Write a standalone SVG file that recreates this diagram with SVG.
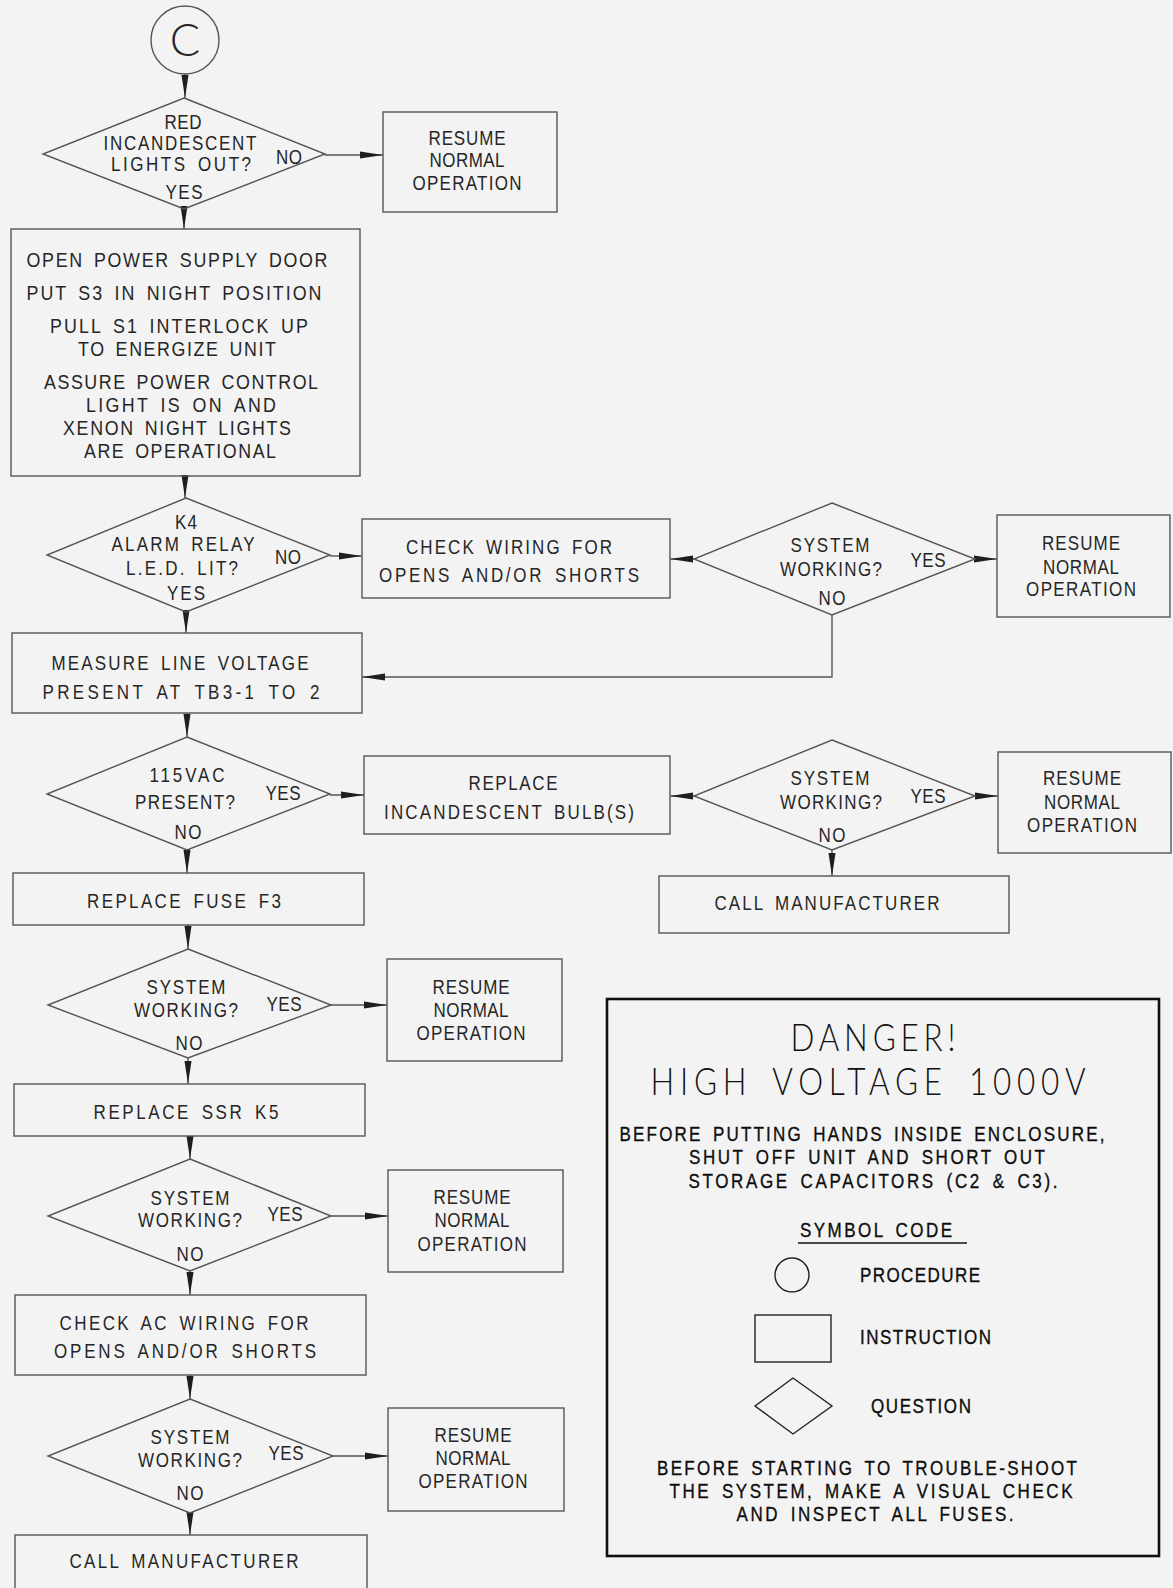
<svg xmlns="http://www.w3.org/2000/svg" width="1173" height="1588" viewBox="0 0 1173 1588">
<style>
.bg{fill:#f3f3f3}
.shape{fill:none;stroke:#555;stroke-width:1.4}
.conn{fill:none;stroke:#555;stroke-width:1.4}
.t{font-family:"Liberation Sans",Arial,sans-serif;font-size:20px;fill:#262626;text-anchor:middle;word-spacing:4px}
.tb{font-family:"Liberation Sans",Arial,sans-serif;font-size:21px;fill:#262626;text-anchor:middle;word-spacing:4px}
.lg{font-family:"Liberation Sans",Arial,sans-serif;font-size:20px;fill:#0d0d0d;stroke:#0d0d0d;stroke-width:0.35;text-anchor:middle;word-spacing:4px}
.lgs{font-family:"Liberation Sans",Arial,sans-serif;font-size:20px;fill:#0d0d0d;stroke:#0d0d0d;stroke-width:0.35;text-anchor:start}
.big{font-family:Lato,"Liberation Sans",Arial,sans-serif;font-weight:300;font-size:37px;fill:#111;text-anchor:middle;word-spacing:8px}
.lshape{fill:none;stroke:#222;stroke-width:1.4}
</style>
<defs>
<marker id="ah" markerUnits="userSpaceOnUse" markerWidth="23" markerHeight="8" viewBox="0 0 23 8" refX="23" refY="4" orient="auto">
<path d="M0,0.5 L23,4 L0,7.5 Z" fill="#1e1e1e"/>
</marker>
</defs>
<rect class="bg" x="0" y="0" width="1173" height="1588"/>

<g id="connectors">
<line class="conn" x1="185" y1="74" x2="185" y2="98" marker-end="url(#ah)"/>
<line class="conn" x1="325" y1="155" x2="383" y2="155" marker-end="url(#ah)"/>
<line class="conn" x1="184" y1="209" x2="184" y2="229" marker-end="url(#ah)"/>
<line class="conn" x1="185" y1="476" x2="185" y2="498" marker-end="url(#ah)"/>
<line class="conn" x1="330" y1="556" x2="362" y2="556" marker-end="url(#ah)"/>
<line class="conn" x1="694" y1="559" x2="670" y2="559" marker-end="url(#ah)"/>
<line class="conn" x1="975" y1="559" x2="997" y2="559" marker-end="url(#ah)"/>
<polyline class="conn" points="832,615 832,677 362,677" marker-end="url(#ah)"/>
<line class="conn" x1="186" y1="612" x2="186" y2="633" marker-end="url(#ah)"/>
<line class="conn" x1="187" y1="713" x2="187" y2="737" marker-end="url(#ah)"/>
<line class="conn" x1="330" y1="795" x2="364" y2="795" marker-end="url(#ah)"/>
<line class="conn" x1="694" y1="796" x2="670" y2="796" marker-end="url(#ah)"/>
<line class="conn" x1="975" y1="796" x2="998" y2="796" marker-end="url(#ah)"/>
<line class="conn" x1="832" y1="850" x2="832" y2="876" marker-end="url(#ah)"/>
<line class="conn" x1="187" y1="850" x2="187" y2="873" marker-end="url(#ah)"/>
<line class="conn" x1="188" y1="925" x2="188" y2="949" marker-end="url(#ah)"/>
<line class="conn" x1="331" y1="1005" x2="387" y2="1005" marker-end="url(#ah)"/>
<line class="conn" x1="188" y1="1058" x2="188" y2="1084" marker-end="url(#ah)"/>
<line class="conn" x1="190" y1="1136" x2="190" y2="1159" marker-end="url(#ah)"/>
<line class="conn" x1="331" y1="1216" x2="388" y2="1216" marker-end="url(#ah)"/>
<line class="conn" x1="190" y1="1271" x2="190" y2="1295" marker-end="url(#ah)"/>
<line class="conn" x1="190" y1="1375" x2="190" y2="1399" marker-end="url(#ah)"/>
<line class="conn" x1="333" y1="1456" x2="388" y2="1456" marker-end="url(#ah)"/>
<line class="conn" x1="190" y1="1513" x2="190" y2="1535" marker-end="url(#ah)"/>
</g>

<g id="startC">
<circle class="shape" cx="185" cy="40" r="34"/>
<text x="185" y="56" style="font-family:Lato,'Liberation Sans',sans-serif;font-weight:300;font-size:45px;fill:#262626;text-anchor:middle">C</text>
</g>

<g id="q1">
<polygon class="shape" points="184,98 325,154 184,209 43,154"/>
<text class="t" transform="translate(183 129) scale(.85 1)" textLength="43.5" lengthAdjust="spacing">RED</text>
<text class="t" transform="translate(180 150) scale(.85 1)" textLength="180" lengthAdjust="spacing">INCANDESCENT</text>
<text class="t" transform="translate(181 171) scale(.85 1)" textLength="164.7" lengthAdjust="spacing">LIGHTS OUT?</text>
<text class="t" transform="translate(184 199) scale(.85 1)" textLength="43.5" lengthAdjust="spacing">YES</text>
<text class="t" transform="translate(289 164) scale(.85 1)" textLength="30.6" lengthAdjust="spacing">NO</text>
</g>

<g id="resume1">
<rect class="shape" x="383" y="112" width="174" height="100"/>
<text class="t" transform="translate(467 145) scale(.85 1)" textLength="90.6" lengthAdjust="spacing">RESUME</text>
<text class="t" transform="translate(467 167) scale(.85 1)" textLength="88.2" lengthAdjust="spacing">NORMAL</text>
<text class="t" transform="translate(467 190) scale(.85 1)" textLength="128.2" lengthAdjust="spacing">OPERATION</text>
</g>

<g id="openDoor">
<rect class="shape" x="11" y="229" width="349" height="247"/>
<text class="tb" transform="translate(177 267) scale(.85 1)" textLength="354.1" lengthAdjust="spacing">OPEN POWER SUPPLY DOOR</text>
<text class="tb" transform="translate(174 300) scale(.85 1)" textLength="347.1" lengthAdjust="spacing">PUT S3 IN NIGHT POSITION</text>
<text class="tb" transform="translate(179 333) scale(.85 1)" textLength="303.5" lengthAdjust="spacing">PULL S1 INTERLOCK UP</text>
<text class="tb" transform="translate(177 356) scale(.85 1)" textLength="232.9" lengthAdjust="spacing">TO ENERGIZE UNIT</text>
<text class="tb" transform="translate(181 389) scale(.85 1)" textLength="322.4" lengthAdjust="spacing">ASSURE POWER CONTROL</text>
<text class="tb" transform="translate(181 412) scale(.85 1)" textLength="223.5" lengthAdjust="spacing">LIGHT IS ON AND</text>
<text class="tb" transform="translate(177 435) scale(.85 1)" textLength="268.2" lengthAdjust="spacing">XENON NIGHT LIGHTS</text>
<text class="tb" transform="translate(180 458) scale(.85 1)" textLength="225.9" lengthAdjust="spacing">ARE OPERATIONAL</text>
</g>

<g id="q2">
<polygon class="shape" points="186,498 330,555 186,612 47,555"/>
<text class="t" transform="translate(186 529) scale(.85 1)" textLength="26" lengthAdjust="spacing">K4</text>
<text class="t" transform="translate(183 551) scale(.85 1)" textLength="168.2" lengthAdjust="spacing">ALARM RELAY</text>
<text class="t" transform="translate(182 575) scale(.85 1)" textLength="131.8" lengthAdjust="spacing">L.E.D. LIT?</text>
<text class="t" transform="translate(186 600) scale(.85 1)" textLength="44.7" lengthAdjust="spacing">YES</text>
<text class="t" transform="translate(288 564) scale(.85 1)" textLength="30.6" lengthAdjust="spacing">NO</text>
</g>

<g id="checkWiring">
<rect class="shape" x="362" y="519" width="308" height="79"/>
<text class="t" transform="translate(509 554) scale(.85 1)" textLength="242.4" lengthAdjust="spacing">CHECK WIRING FOR</text>
<text class="t" transform="translate(509 582) scale(.85 1)" textLength="305.9" lengthAdjust="spacing">OPENS AND/OR SHORTS</text>
</g>

<g id="q3">
<polygon class="shape" points="832,503 975,559 832,615 694,559"/>
<text class="t" transform="translate(830 552) scale(.85 1)" textLength="92.9" lengthAdjust="spacing">SYSTEM</text>
<text class="t" transform="translate(831 576) scale(.85 1)" textLength="120" lengthAdjust="spacing">WORKING?</text>
<text class="t" transform="translate(928 567) scale(.85 1)" textLength="41.2" lengthAdjust="spacing">YES</text>
<text class="t" transform="translate(832 605) scale(.85 1)" textLength="31.8" lengthAdjust="spacing">NO</text>
</g>

<g id="resume2">
<rect class="shape" x="997" y="515" width="173" height="102"/>
<text class="t" transform="translate(1081 550) scale(.85 1)" textLength="91.8" lengthAdjust="spacing">RESUME</text>
<text class="t" transform="translate(1081 574) scale(.85 1)" textLength="89.4" lengthAdjust="spacing">NORMAL</text>
<text class="t" transform="translate(1081 596) scale(.85 1)" textLength="129.4" lengthAdjust="spacing">OPERATION</text>
</g>

<g id="measure">
<rect class="shape" x="12" y="633" width="350" height="80"/>
<text class="t" transform="translate(180 670) scale(.85 1)" textLength="302.4" lengthAdjust="spacing">MEASURE LINE VOLTAGE</text>
<text class="t" transform="translate(181 699) scale(.85 1)" textLength="325.9" lengthAdjust="spacing">PRESENT AT TB3-1 TO 2</text>
</g>

<g id="q4">
<polygon class="shape" points="187,737 330,794 187,850 47,794"/>
<text class="t" transform="translate(187 782) scale(.85 1)" textLength="88.2" lengthAdjust="spacing">115VAC</text>
<text class="t" transform="translate(185 809) scale(.85 1)" textLength="117.6" lengthAdjust="spacing">PRESENT?</text>
<text class="t" transform="translate(283 800) scale(.85 1)" textLength="41.2" lengthAdjust="spacing">YES</text>
<text class="t" transform="translate(188 839) scale(.85 1)" textLength="31.8" lengthAdjust="spacing">NO</text>
</g>

<g id="replaceBulb">
<rect class="shape" x="364" y="756" width="306" height="78"/>
<text class="t" transform="translate(513 790) scale(.85 1)" textLength="104.7" lengthAdjust="spacing">REPLACE</text>
<text class="t" transform="translate(509 819) scale(.85 1)" textLength="294.1" lengthAdjust="spacing">INCANDESCENT BULB(S)</text>
</g>

<g id="q5">
<polygon class="shape" points="832,740 975,796 832,850 694,796"/>
<text class="t" transform="translate(830 785) scale(.85 1)" textLength="92.9" lengthAdjust="spacing">SYSTEM</text>
<text class="t" transform="translate(831 809) scale(.85 1)" textLength="120" lengthAdjust="spacing">WORKING?</text>
<text class="t" transform="translate(928 803) scale(.85 1)" textLength="41.2" lengthAdjust="spacing">YES</text>
<text class="t" transform="translate(832 842) scale(.85 1)" textLength="31.8" lengthAdjust="spacing">NO</text>
</g>

<g id="resume3">
<rect class="shape" x="998" y="752" width="173" height="101"/>
<text class="t" transform="translate(1082 785) scale(.85 1)" textLength="91.8" lengthAdjust="spacing">RESUME</text>
<text class="t" transform="translate(1082 809) scale(.85 1)" textLength="89.4" lengthAdjust="spacing">NORMAL</text>
<text class="t" transform="translate(1082 832) scale(.85 1)" textLength="129.4" lengthAdjust="spacing">OPERATION</text>
</g>

<g id="callMfr1">
<rect class="shape" x="659" y="876" width="350" height="57"/>
<text class="t" transform="translate(827 910) scale(.85 1)" textLength="264.7" lengthAdjust="spacing">CALL MANUFACTURER</text>
</g>

<g id="replaceFuse">
<rect class="shape" x="13" y="873" width="351" height="52"/>
<text class="t" transform="translate(184 908) scale(.85 1)" textLength="228.2" lengthAdjust="spacing">REPLACE FUSE F3</text>
</g>

<g id="q6">
<polygon class="shape" points="188,949 331,1005 188,1058 48,1005"/>
<text class="t" transform="translate(186 994) scale(.85 1)" textLength="92.9" lengthAdjust="spacing">SYSTEM</text>
<text class="t" transform="translate(186 1017) scale(.85 1)" textLength="122.4" lengthAdjust="spacing">WORKING?</text>
<text class="t" transform="translate(284 1011) scale(.85 1)" textLength="41.2" lengthAdjust="spacing">YES</text>
<text class="t" transform="translate(189 1050) scale(.85 1)" textLength="31.8" lengthAdjust="spacing">NO</text>
</g>

<g id="resume4">
<rect class="shape" x="387" y="959" width="175" height="102"/>
<text class="t" transform="translate(471 994) scale(.85 1)" textLength="90.6" lengthAdjust="spacing">RESUME</text>
<text class="t" transform="translate(471 1017) scale(.85 1)" textLength="88.2" lengthAdjust="spacing">NORMAL</text>
<text class="t" transform="translate(471 1040) scale(.85 1)" textLength="128.2" lengthAdjust="spacing">OPERATION</text>
</g>

<g id="replaceSSR">
<rect class="shape" x="14" y="1084" width="351" height="52"/>
<text class="t" transform="translate(186 1119) scale(.85 1)" textLength="217.6" lengthAdjust="spacing">REPLACE SSR K5</text>
</g>

<g id="q7">
<polygon class="shape" points="190,1159 331,1216 190,1271 48,1216"/>
<text class="t" transform="translate(190 1205) scale(.85 1)" textLength="92.9" lengthAdjust="spacing">SYSTEM</text>
<text class="t" transform="translate(190 1227) scale(.85 1)" textLength="122.4" lengthAdjust="spacing">WORKING?</text>
<text class="t" transform="translate(285 1221) scale(.85 1)" textLength="41.2" lengthAdjust="spacing">YES</text>
<text class="t" transform="translate(190 1261) scale(.85 1)" textLength="31.8" lengthAdjust="spacing">NO</text>
</g>

<g id="resume5">
<rect class="shape" x="388" y="1170" width="175" height="102"/>
<text class="t" transform="translate(472 1204) scale(.85 1)" textLength="90.6" lengthAdjust="spacing">RESUME</text>
<text class="t" transform="translate(472 1227) scale(.85 1)" textLength="88.2" lengthAdjust="spacing">NORMAL</text>
<text class="t" transform="translate(472 1251) scale(.85 1)" textLength="128.2" lengthAdjust="spacing">OPERATION</text>
</g>

<g id="checkAC">
<rect class="shape" x="15" y="1295" width="351" height="80"/>
<text class="t" transform="translate(184 1330) scale(.85 1)" textLength="292.9" lengthAdjust="spacing">CHECK AC WIRING FOR</text>
<text class="t" transform="translate(185 1358) scale(.85 1)" textLength="308.2" lengthAdjust="spacing">OPENS AND/OR SHORTS</text>
</g>

<g id="q8">
<polygon class="shape" points="190,1399 333,1456 190,1513 48,1456"/>
<text class="t" transform="translate(190 1444) scale(.85 1)" textLength="92.9" lengthAdjust="spacing">SYSTEM</text>
<text class="t" transform="translate(190 1467) scale(.85 1)" textLength="122.4" lengthAdjust="spacing">WORKING?</text>
<text class="t" transform="translate(286 1460) scale(.85 1)" textLength="41.2" lengthAdjust="spacing">YES</text>
<text class="t" transform="translate(190 1500) scale(.85 1)" textLength="31.8" lengthAdjust="spacing">NO</text>
</g>

<g id="resume6">
<rect class="shape" x="388" y="1408" width="176" height="103"/>
<text class="t" transform="translate(473 1442) scale(.85 1)" textLength="90.6" lengthAdjust="spacing">RESUME</text>
<text class="t" transform="translate(473 1465) scale(.85 1)" textLength="88.2" lengthAdjust="spacing">NORMAL</text>
<text class="t" transform="translate(473 1488) scale(.85 1)" textLength="128.2" lengthAdjust="spacing">OPERATION</text>
</g>

<g id="callMfr2">
<rect class="shape" x="15" y="1535" width="352" height="60"/>
<text class="t" transform="translate(184 1568) scale(.85 1)" textLength="269.4" lengthAdjust="spacing">CALL MANUFACTURER</text>
</g>

<g id="dangerLegend">
<rect x="607" y="999" width="552" height="557" fill="none" stroke="#111" stroke-width="2.6"/>
<text class="big" transform="translate(873 1051) scale(.85 1)" textLength="194.1" lengthAdjust="spacing">DANGER!</text>
<text class="big" transform="translate(868 1095) scale(.85 1)" textLength="511.8" lengthAdjust="spacing">HIGH VOLTAGE 1000V</text>
<text class="lg" transform="translate(862 1141) scale(.85 1)" textLength="570.6" lengthAdjust="spacing">BEFORE PUTTING HANDS INSIDE ENCLOSURE,</text>
<text class="lg" transform="translate(867 1164) scale(.85 1)" textLength="418.8" lengthAdjust="spacing">SHUT OFF UNIT AND SHORT OUT</text>
<text class="lg" transform="translate(873 1188) scale(.85 1)" textLength="434.1" lengthAdjust="spacing">STORAGE CAPACITORS (C2 &amp; C3).</text>
<text class="lg" transform="translate(876 1237) scale(.85 1)" textLength="178.8" lengthAdjust="spacing">SYMBOL CODE</text>
<line x1="798" y1="1243" x2="967" y2="1243" stroke="#111" stroke-width="1.6"/>
<circle class="lshape" cx="792" cy="1275" r="17"/>
<text class="lgs" transform="translate(860 1282) scale(.85 1)" textLength="141.2" lengthAdjust="spacing">PROCEDURE</text>
<rect class="lshape" x="755" y="1315" width="76" height="47"/>
<text class="lgs" transform="translate(860 1344) scale(.85 1)" textLength="154.1" lengthAdjust="spacing">INSTRUCTION</text>
<polygon class="lshape" points="755,1406 793,1378 832,1406 793,1434"/>
<text class="lgs" transform="translate(871 1413) scale(.85 1)" textLength="117.6" lengthAdjust="spacing">QUESTION</text>
<text class="lg" transform="translate(867 1475) scale(.85 1)" textLength="494.1" lengthAdjust="spacing">BEFORE STARTING TO TROUBLE-SHOOT</text>
<text class="lg" transform="translate(871 1498) scale(.85 1)" textLength="474.1" lengthAdjust="spacing">THE SYSTEM, MAKE A VISUAL CHECK</text>
<text class="lg" transform="translate(875 1521) scale(.85 1)" textLength="325.9" lengthAdjust="spacing">AND INSPECT ALL FUSES.</text>
</g>
</svg>
